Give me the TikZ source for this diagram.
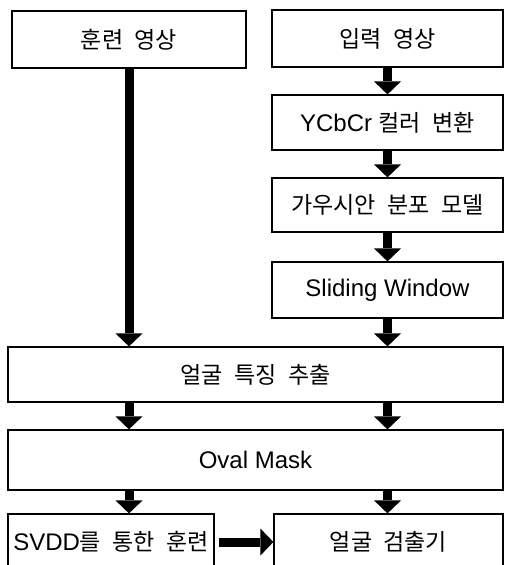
\documentclass[tikz,border=0pt]{standalone}
\usepackage{fontspec}
\setmainfont{Liberation Sans}
\newfontfamily\ko{Noto Sans CJK KR}[Scale=0.96,WordSpace=2.2]
\usetikzlibrary{arrows.meta}
\begin{document}
\begin{tikzpicture}[x=1pt,y=-1pt,
  box/.style={draw=black, line width=1.2pt, rectangle, inner sep=0pt,
    font=\fontsize{24}{28}\selectfont},
  flow/.style={draw=black, line width=9pt,
    -{Triangle[width=27pt,length=13pt,line width=0pt]}}]
\useasboundingbox (0,0) rectangle (505,565);

\node[box, minimum width=234pt, minimum height=57pt] (train) at (129,39.5) {\ko 훈련 영상};
\node[box, minimum width=231pt, minimum height=57pt] (input) at (387.5,38.5) {\ko 입력 영상};
\node[box, minimum width=231pt, minimum height=55pt] (ycc) at (387.5,122.5) {YCbCr {\ko 컬러 변환}};
\node[box, minimum width=231pt, minimum height=54pt] (gauss) at (387.5,205) {\ko 가우시안 분포 모델};
\node[box, minimum width=231pt, minimum height=56pt] (slide) at (387.5,290) {Sliding Window};
\node[box, minimum width=495pt, minimum height=55pt] (feat) at (255.5,374.5) {\ko 얼굴 특징 추출};
\node[box, minimum width=495pt, minimum height=60pt] (oval) at (255.5,460) {Oval Mask};
\node[box, minimum width=206pt, minimum height=56pt] (svdd) at (111,542) {SVDD{\ko 를 통한 훈련}};
\node[box, minimum width=229pt, minimum height=56pt] (det) at (388.5,542) {\ko 얼굴 검출기};

\draw[flow] (train.south) -- (train.south |- feat.north);
\draw[flow] (input.south) -- (ycc.north);
\draw[flow] (ycc.south) -- (gauss.north);
\draw[flow] (gauss.south) -- (slide.north);
\draw[flow] (slide.south) -- (slide.south |- feat.north);
\draw[flow] (feat.south -| train.south) -- (oval.north -| train.south);
\draw[flow] (feat.south -| input.south) -- (oval.north -| input.south);
\draw[flow] (oval.south -| train.south) -- (svdd.north -| train.south);
\draw[flow] (oval.south -| input.south) -- (det.north -| input.south);
\draw[flow, shorten <=4pt] (svdd.east) -- (det.west);
\end{tikzpicture}
\end{document}
